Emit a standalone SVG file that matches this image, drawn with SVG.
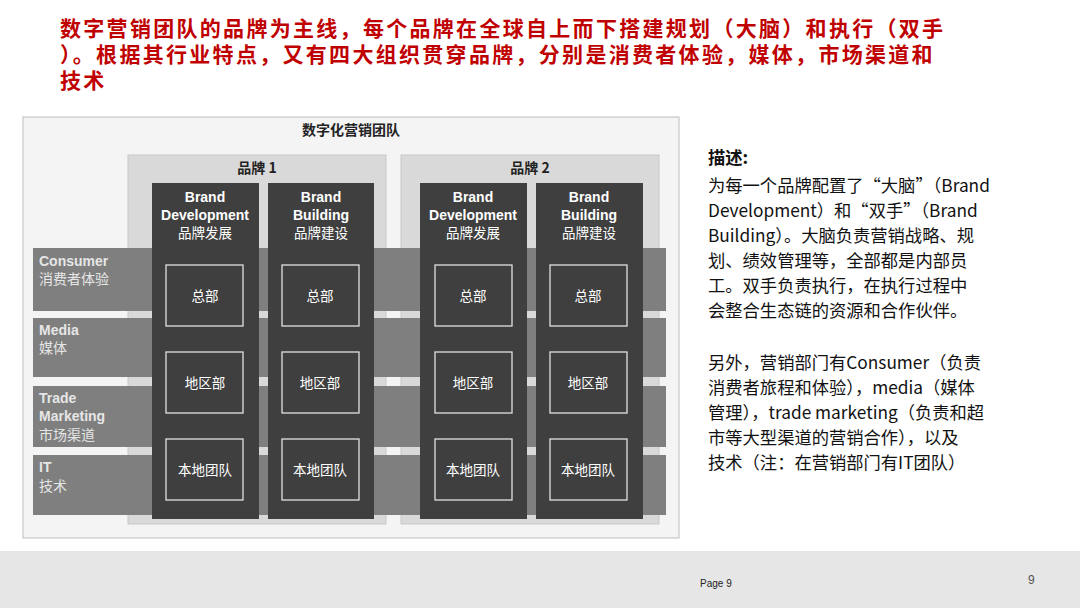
<svg xmlns="http://www.w3.org/2000/svg" width="1080" height="608" viewBox="0 0 1080 608">
<style>
.t{font-family:"Noto Sans CJK SC","Noto Sans",sans-serif}
.ti{font-family:"Noto Sans CJK SC",sans-serif;font-size:21px;letter-spacing:2.3px;font-weight:bold;fill:#c00000}
.band{fill:#7f7f7f}
.col{fill:#3f3f3f}
.brand{fill:#d9d9d9;stroke:#c8c8c8}
.box{fill:none;stroke:#e0e0e0;stroke-width:1.3}
.wb{font-family:"Liberation Sans",Arial,sans-serif;font-weight:bold;font-size:14px;fill:#fff;text-anchor:middle}
.wc{font-family:"Noto Sans CJK SC",sans-serif;font-size:13.5px;fill:#fff;text-anchor:middle}
.bl{font-family:"Liberation Sans",Arial,sans-serif;font-weight:bold;font-size:14px;fill:#e6e6e6}
.bc{font-family:"Noto Sans CJK SC",sans-serif;font-size:14px;fill:#e6e6e6}
.r{font-family:"Noto Sans CJK SC","Noto Sans",sans-serif;font-size:17.3px;fill:#111}
</style>
<rect width="1080" height="608" fill="#fff"/>
<rect x="0" y="551" width="1080" height="57" fill="#e6e6e6"/>
<text class="ti" x="60" y="36">数字营销团队的品牌为主线，每个品牌在全球自上而下搭建规划（大脑）和执行（双手</text>
<text class="ti" x="60" y="62">）。根据其行业特点，又有四大组织贯穿品牌，分别是消费者体验，媒体，市场渠道和</text>
<text class="ti" x="60" y="88">技术</text>
<g id="outer"><rect x="23" y="117" width="656" height="421" fill="#f4f4f4" stroke="#bdbdbd"/>
<text class="t" x="351" y="135" font-size="14" font-weight="bold" text-anchor="middle" fill="#222">数字化营销团队</text></g>
<g id="brand1"><rect class="brand" x="128" y="155" width="258" height="369"/>
<text class="t" x="257" y="173" font-size="14" font-weight="bold" text-anchor="middle" fill="#222">品牌 1</text></g>
<g id="brand2"><rect class="brand" x="401" y="155" width="258" height="369"/>
<text class="t" x="530" y="173" font-size="14" font-weight="bold" text-anchor="middle" fill="#222">品牌 2</text></g>
<g id="bands">
<rect class="band" x="33" y="248" width="633" height="63"/>
<rect class="band" x="33" y="318" width="633" height="59"/>
<rect class="band" x="33" y="386" width="633" height="61"/>
<rect class="band" x="33" y="455" width="633" height="60"/>
<text class="bl" x="39" y="266">Consumer</text><text class="bc" x="39" y="284">消费者体验</text>
<text class="bl" x="39" y="335">Media</text><text class="bc" x="39" y="353">媒体</text>
<text class="bl" x="39" y="403">Trade</text><text class="bl" x="39" y="421">Marketing</text><text class="bc" x="39" y="440">市场渠道</text>
<text class="bl" x="39" y="472">IT</text><text class="bc" x="39" y="491">技术</text>
</g>
<g id="col1"><rect class="col" x="152" y="183" width="107" height="336"/>
<text class="wb" x="205" y="202">Brand</text><text class="wb" x="205" y="220">Development</text><text class="wc" x="205" y="238">品牌发展</text></g>
<g id="col2"><rect class="col" x="268" y="183" width="106" height="336"/>
<text class="wb" x="321" y="202">Brand</text><text class="wb" x="321" y="220">Building</text><text class="wc" x="321" y="238">品牌建设</text></g>
<g id="col3"><rect class="col" x="420" y="183" width="107" height="336"/>
<text class="wb" x="473" y="202">Brand</text><text class="wb" x="473" y="220">Development</text><text class="wc" x="473" y="238">品牌发展</text></g>
<g id="col4"><rect class="col" x="536" y="183" width="107" height="336"/>
<text class="wb" x="589" y="202">Brand</text><text class="wb" x="589" y="220">Building</text><text class="wc" x="589" y="238">品牌建设</text></g>
<g id="boxes">
<rect class="box" x="166" y="265" width="77" height="61"/><rect class="box" x="282" y="265" width="77" height="61"/><rect class="box" x="435" y="265" width="77" height="61"/><rect class="box" x="550" y="265" width="77" height="61"/>
<rect class="box" x="166" y="352" width="77" height="61"/><rect class="box" x="282" y="352" width="77" height="61"/><rect class="box" x="435" y="352" width="77" height="61"/><rect class="box" x="550" y="352" width="77" height="61"/>
<rect class="box" x="166" y="439" width="77" height="61"/><rect class="box" x="282" y="439" width="77" height="61"/><rect class="box" x="435" y="439" width="77" height="61"/><rect class="box" x="550" y="439" width="77" height="61"/>
<text class="wc" x="205" y="301">总部</text><text class="wc" x="320" y="301">总部</text><text class="wc" x="473" y="301">总部</text><text class="wc" x="588" y="301">总部</text>
<text class="wc" x="205" y="388">地区部</text><text class="wc" x="320" y="388">地区部</text><text class="wc" x="473" y="388">地区部</text><text class="wc" x="588" y="388">地区部</text>
<text class="wc" x="205" y="475">本地团队</text><text class="wc" x="320" y="475">本地团队</text><text class="wc" x="473" y="475">本地团队</text><text class="wc" x="588" y="475">本地团队</text>
</g>
<g id="desc">
<text class="r" x="708" y="164" font-weight="bold">描述:</text>
<text class="r" x="708" y="192">为每一个品牌配置了“大脑”（Brand</text>
<text class="r" x="708" y="217">Development）和“双手”（Brand</text>
<text class="r" x="708" y="242">Building）。大脑负责营销战略、规</text>
<text class="r" x="708" y="267">划、绩效管理等，全部都是内部员</text>
<text class="r" x="708" y="292">工。双手负责执行，在执行过程中</text>
<text class="r" x="708" y="317">会整合生态链的资源和合作伙伴。</text>
<text class="r" x="708" y="369">另外，营销部门有Consumer（负责</text>
<text class="r" x="708" y="394">消费者旅程和体验），media（媒体</text>
<text class="r" x="708" y="419">管理），trade marketing（负责和超</text>
<text class="r" x="708" y="444">市等大型渠道的营销合作），以及</text>
<text class="r" x="708" y="469">技术（注：在营销部门有IT团队）</text>
</g>
<text x="700" y="587" font-family="Liberation Sans,Arial,sans-serif" font-size="10" fill="#222">Page 9</text>
<text x="1028" y="584" font-family="Liberation Sans,Arial,sans-serif" font-size="12" fill="#555">9</text>
</svg>
